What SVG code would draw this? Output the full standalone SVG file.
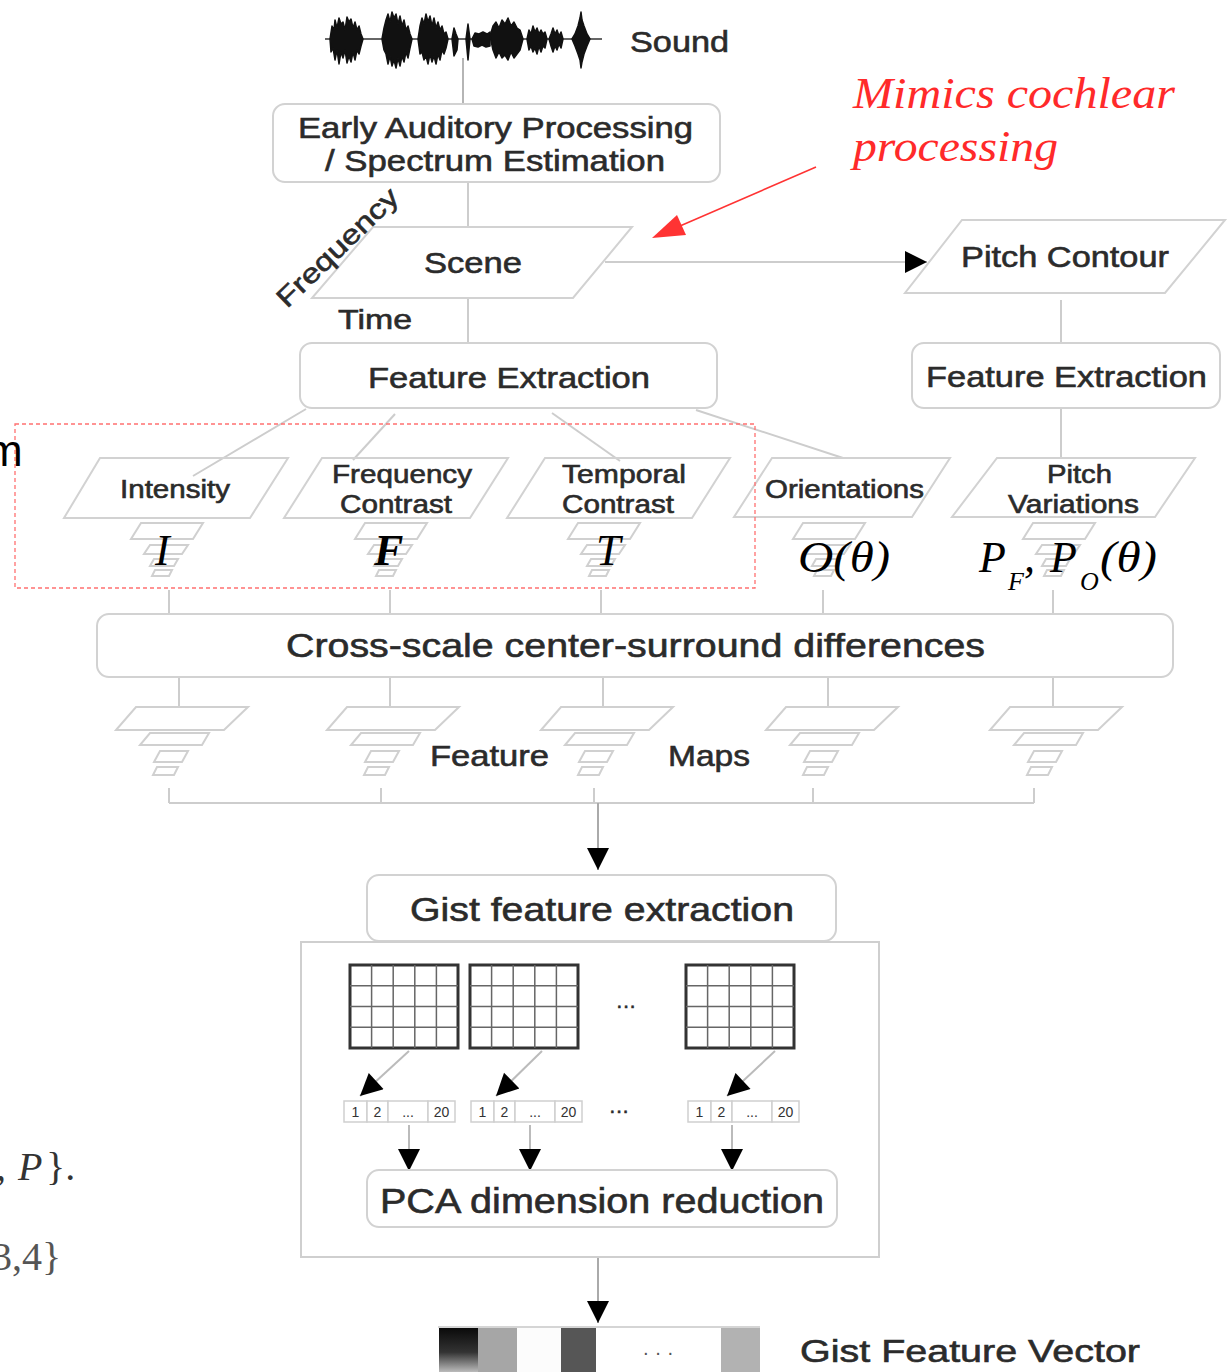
<svg xmlns="http://www.w3.org/2000/svg" width="1229" height="1372" viewBox="0 0 1229 1372">
<style>
.bg{fill:#fff}
.box{fill:#fff;stroke:#d2d2d2;stroke-width:2}
.para{fill:none;stroke:#d2d2d2;stroke-width:2}
.conn{stroke:#cdcdcd;stroke-width:2;fill:none}
.lbl{font-family:"Liberation Sans",Arial,sans-serif;fill:#2b2b2b;stroke:#2b2b2b;stroke-width:0.6}
.c{text-anchor:middle}
.math{font-family:"Liberation Serif","Times New Roman",serif;fill:#000;font-style:italic}
.red{font-family:"Liberation Serif","Times New Roman",serif;fill:#ff2a2a;font-style:italic}
.pyr path{fill:#fff;stroke:#d0d0d0;stroke-width:2}
.gridb{fill:#fff;stroke:#333;stroke-width:3}
.gridl{stroke:#666;stroke-width:1.5}
.cell{fill:#fff;stroke:#cfcfcf;stroke-width:1.5}
.ct{font-family:"Liberation Sans",Arial,sans-serif;font-size:14px;fill:#333;text-anchor:middle}
.wave polygon{fill:#111;stroke:#111;stroke-width:1.5;stroke-linejoin:round}
</style>
<defs>
<marker id="ah" viewBox="0 0 10 10" refX="10" refY="5" markerWidth="24" markerHeight="22" markerUnits="userSpaceOnUse" orient="auto"><path d="M0,0 L10,5 L0,10 z" fill="#000"/></marker>
<linearGradient id="blk" x1="0" y1="0" x2="0" y2="1"><stop offset="0" stop-color="#0a0a0a"/><stop offset="0.55" stop-color="#333"/><stop offset="1" stop-color="#bbb"/></linearGradient>
<g id="stack" class="pyr">
<path d="M-27,0 H35 L25,16 H-37 Z"/>
<path d="M-18,22 H20 L14,31 H-24 Z"/>
<path d="M-14,36 H10 L6,43 H-18 Z"/>
<path d="M-13,47 H4 L1,53 H-16 Z"/>
</g>
<g id="fmap" class="pyr">
<path d="M-42,0 H70 L46,23 H-62 Z"/>
<path d="M-28,26 H31 L24,38 H-38 Z"/>
<path d="M-18,44 H10 L4,55 H-24 Z"/>
<path d="M-21,60 H0 L-4,68 H-25 Z"/>
</g>
<g id="grid">
<rect class="gridb" x="0" y="0" width="108" height="83"/>
<path class="gridl" d="M21.6,0 V83 M43.2,0 V83 M64.8,0 V83 M86.4,0 V83 M0,20.75 H108 M0,41.5 H108 M0,62.25 H108"/>
</g>
<g id="vec">
<rect class="cell" x="0" y="0" width="23" height="21"/>
<rect class="cell" x="23" y="0" width="21" height="21"/>
<rect class="cell" x="44" y="0" width="40" height="21"/>
<rect class="cell" x="84" y="0" width="27" height="21"/>
<text class="ct" x="11.5" y="16">1</text>
<text class="ct" x="33.5" y="16">2</text>
<text class="ct" x="64" y="16">...</text>
<text class="ct" x="97.5" y="16">20</text>
</g>
</defs>
<rect class="bg" x="0" y="0" width="1229" height="1372"/>

<g id="connectors">
<line class="conn" x1="463" y1="58" x2="463" y2="104" style="stroke:#b5b5b5"/>
<line class="conn" x1="468" y1="183" x2="468" y2="227"/>
<line class="conn" x1="468" y1="298" x2="468" y2="343"/>
<line class="conn" x1="605" y1="262" x2="927" y2="262" marker-end="url(#ah)"/>
<line class="conn" x1="1061" y1="300" x2="1061" y2="343"/>
<line class="conn" x1="1061" y1="409" x2="1061" y2="458"/>
<line class="conn" x1="306" y1="409" x2="193" y2="476"/>
<line class="conn" x1="395" y1="414" x2="353" y2="460"/>
<line class="conn" x1="552" y1="413" x2="620" y2="461"/>
<line class="conn" x1="696" y1="410" x2="843" y2="458"/>
<path class="conn" d="M169,590 V614 M390,590 V614 M601,590 V614 M823,590 V614 M1053,590 V614"/>
<path class="conn" d="M179,677 V707 M390,677 V707 M603,677 V707 M828,677 V707 M1053,677 V707"/>
<path class="conn" d="M169,788 V803 M381,788 V803 M594,788 V803 M813,788 V803 M1034,788 V803 M169,803 H1034"/>
<line class="conn" x1="598" y1="803" x2="598" y2="870" style="stroke:#aaa" marker-end="url(#ah)"/>
<line class="conn" x1="409" y1="1051" x2="360" y2="1096" style="stroke:#bbb" marker-end="url(#ah)"/>
<line class="conn" x1="542" y1="1051" x2="496" y2="1096" style="stroke:#bbb" marker-end="url(#ah)"/>
<line class="conn" x1="775" y1="1051" x2="727" y2="1096" style="stroke:#bbb" marker-end="url(#ah)"/>
<line class="conn" x1="409" y1="1125" x2="409" y2="1171" style="stroke:#bbb" marker-end="url(#ah)"/>
<line class="conn" x1="530" y1="1125" x2="530" y2="1171" style="stroke:#bbb" marker-end="url(#ah)"/>
<line class="conn" x1="732" y1="1125" x2="732" y2="1171" style="stroke:#bbb" marker-end="url(#ah)"/>
<line class="conn" x1="598" y1="1258" x2="598" y2="1323" style="stroke:#aaa" marker-end="url(#ah)"/>
<line x1="816" y1="167" x2="680" y2="226" stroke="#ff3333" stroke-width="1.5"/>
<polygon points="652,238 686,235 677,215" fill="#ff3333"/>
</g>

<g id="sound">
<line x1="325" y1="39" x2="602" y2="39" stroke="#333" stroke-width="1.5"/>
<g class="wave">
<polygon points="330,39 332,26 334,30 335,20 337,28 339,18 341,24 343,22 345,30 347,17 349,22 351,19 353,28 355,22 357,30 359,26 361,34 363,39 361,46 359,54 357,50 355,60 353,52 351,62 349,56 347,63 345,50 343,58 341,52 339,64 337,50 335,60 333,48 331,52"/>
<polygon points="382,39 384,28 386,20 388,14 390,22 392,12 394,18 396,14 398,24 400,16 402,26 404,20 406,30 408,26 410,34 412,39 410,48 408,58 406,52 404,62 402,56 400,66 398,58 396,68 394,60 392,66 390,56 388,64 386,54 384,50"/>
<polygon points="418,39 420,26 422,18 424,24 426,14 428,22 430,16 432,26 434,18 436,28 438,22 440,30 442,26 444,34 446,32 448,39 446,48 444,54 442,50 440,60 438,54 436,64 434,56 432,62 430,54 428,64 426,56 424,60 422,52 420,54"/>
<polygon points="452,39 454,28 456,34 458,39 457,50 454,56"/>
<polygon points="466,39 468,24 470,39 468,60"/>
<polygon points="472,39 475,33 479,34 483,32 487,34 490,32 490,46 486,47 482,45 478,47 474,46"/>
<polygon points="490,36 493,26 496,22 499,28 502,20 505,24 508,18 511,26 514,22 517,28 520,30 523,39 520,50 517,54 514,58 511,52 508,60 505,55 502,58 499,52 496,58 493,50"/>
<polygon points="527,39 529,30 531,34 533,26 535,32 537,28 539,34 541,30 543,34 545,32 547,39 545,48 543,46 541,52 539,46 537,54 535,48 533,52 531,46 529,50"/>
<polygon points="549,39 551,34 553,28 555,34 557,30 559,36 561,32 563,39 561,48 559,44 557,50 555,46 553,52 551,46"/>
<polygon points="572,39 575,34 578,26 580,18 581,12 582,20 584,26 587,34 590,39 587,46 584,54 582,62 581,68 580,60 578,54 575,46"/>
</g>
<text class="lbl" x="630" y="52" font-size="30" textLength="99" lengthAdjust="spacingAndGlyphs">Sound</text>
</g>

<g id="early">
<rect class="box" x="273" y="104" width="447" height="78" rx="12"/>
<text class="lbl" x="298" y="138" font-size="30" textLength="395" lengthAdjust="spacingAndGlyphs">Early Auditory Processing</text>
<text class="lbl" x="325" y="171" font-size="30" textLength="340" lengthAdjust="spacingAndGlyphs">/ Spectrum Estimation</text>
</g>

<g id="scene">
<polygon class="para" points="373,227 632,227 573,298 312,298"/>
<text class="lbl" x="424" y="273" font-size="30" textLength="98" lengthAdjust="spacingAndGlyphs">Scene</text>
<text class="lbl" x="0" y="0" font-size="27" transform="translate(287,309) rotate(-44)" textLength="158" lengthAdjust="spacingAndGlyphs">Frequency</text>
<text class="lbl" x="338" y="329" font-size="28" textLength="74" lengthAdjust="spacingAndGlyphs">Time</text>
</g>

<g id="annotation">
<text class="red" x="853" y="108" font-size="45" textLength="322" lengthAdjust="spacingAndGlyphs">Mimics cochlear</text>
<text class="red" x="853" y="161" font-size="45" textLength="205" lengthAdjust="spacingAndGlyphs">processing</text>
</g>

<g id="pitch-contour">
<polygon class="para" points="962,220 1225,220 1165,293 905,293"/>
<text class="lbl" x="961" y="267" font-size="30" textLength="208" lengthAdjust="spacingAndGlyphs">Pitch Contour</text>
</g>

<g id="feature-extraction-left">
<rect class="box" x="300" y="343" width="417" height="65" rx="12"/>
<text class="lbl" x="368" y="388" font-size="30" textLength="282" lengthAdjust="spacingAndGlyphs">Feature Extraction</text>
</g>

<g id="feature-extraction-right">
<rect class="box" x="912" y="343" width="308" height="65" rx="12"/>
<text class="lbl" x="926" y="387" font-size="30" textLength="281" lengthAdjust="spacingAndGlyphs">Feature Extraction</text>
</g>

<g id="intensity">
<polygon class="para" points="100,458 288,458 250,518 64,518"/>
<text class="lbl" x="120" y="498" font-size="25" textLength="110" lengthAdjust="spacingAndGlyphs">Intensity</text>
<use href="#stack" x="168" y="523"/>
<text class="math" x="155" y="565" font-size="44">I</text>
</g>

<g id="frequency-contrast">
<polygon class="para" points="322,458 508,458 470,518 284,518"/>
<text class="lbl" x="332" y="483" font-size="25" textLength="140" lengthAdjust="spacingAndGlyphs">Frequency</text>
<text class="lbl" x="340" y="513" font-size="25" textLength="112" lengthAdjust="spacingAndGlyphs">Contrast</text>
<use href="#stack" x="392" y="523"/>
<text class="math" x="374" y="565" font-size="44" font-weight="bold">F</text>
</g>

<g id="temporal-contrast">
<polygon class="para" points="545,458 730,458 692,518 507,518"/>
<text class="lbl" x="562" y="483" font-size="25" textLength="124" lengthAdjust="spacingAndGlyphs">Temporal</text>
<text class="lbl" x="562" y="513" font-size="25" textLength="112" lengthAdjust="spacingAndGlyphs">Contrast</text>
<use href="#stack" x="605" y="523"/>
<text class="math" x="596" y="565" font-size="44">T</text>
</g>

<g id="orientations">
<polygon class="para" points="772,458 950,458 912,517 734,517"/>
<text class="lbl" x="765" y="498" font-size="25" textLength="159" lengthAdjust="spacingAndGlyphs">Orientations</text>
<use href="#stack" x="830" y="523"/>
<text class="math" x="798" y="572" font-size="44" textLength="92" lengthAdjust="spacingAndGlyphs">O(θ)</text>
</g>

<g id="pitch-variations">
<polygon class="para" points="997,458 1195,458 1155,517 952,517"/>
<text class="lbl" x="1047" y="483" font-size="25" textLength="65" lengthAdjust="spacingAndGlyphs">Pitch</text>
<text class="lbl" x="1008" y="513" font-size="25" textLength="131" lengthAdjust="spacingAndGlyphs">Variations</text>
<use href="#stack" x="1060" y="523"/>
<text class="math" x="979" y="572" font-size="44">P</text>
<text class="math" x="1008" y="590" font-size="26">F</text>
<text class="math" x="1024" y="572" font-size="44">,</text>
<text class="math" x="1050" y="572" font-size="44">P</text>
<text class="math" x="1080" y="590" font-size="26">O</text>
<text class="math" x="1100" y="572" font-size="44" textLength="57" lengthAdjust="spacingAndGlyphs">(θ)</text>
</g>

<g id="highlight">
<rect x="15" y="424" width="740" height="164" fill="none" stroke="#ff7070" stroke-width="1.3" stroke-dasharray="4,3"/>
</g>

<g id="cross-scale">
<rect class="box" x="97" y="614" width="1076" height="63" rx="12"/>
<text class="lbl" x="286" y="657" font-size="34" textLength="699" lengthAdjust="spacingAndGlyphs">Cross-scale center-surround differences</text>
</g>

<g id="feature-maps">
<use href="#fmap" x="178" y="707"/>
<use href="#fmap" x="389" y="707"/>
<use href="#fmap" x="603" y="707"/>
<use href="#fmap" x="828" y="707"/>
<use href="#fmap" x="1052" y="707"/>
<text class="lbl" x="430" y="766" font-size="30" textLength="119" lengthAdjust="spacingAndGlyphs">Feature</text>
<text class="lbl" x="668" y="766" font-size="30" textLength="82" lengthAdjust="spacingAndGlyphs">Maps</text>
</g>

<g id="gist-extraction">
<rect class="box" x="367" y="875" width="469" height="66" rx="12"/>
<text class="lbl" x="410" y="921" font-size="34" textLength="384" lengthAdjust="spacingAndGlyphs">Gist feature extraction</text>
</g>

<g id="gist-panel">
<rect x="301" y="942" width="578" height="315" fill="none" stroke="#cfcfcf" stroke-width="2"/>
<use href="#grid" x="350" y="965"/>
<use href="#grid" x="470" y="965"/>
<use href="#grid" x="686" y="965"/>
<text class="lbl c" x="626" y="1012" font-size="20">···</text>
<use href="#vec" x="344" y="1101"/>
<use href="#vec" x="471" y="1101"/>
<use href="#vec" x="688" y="1101"/>
<text class="lbl c" x="619" y="1117" font-size="20">···</text>
</g>

<g id="pca">
<rect class="box" x="367" y="1170" width="470" height="57" rx="12"/>
<text class="lbl" x="380" y="1213" font-size="35" textLength="444" lengthAdjust="spacingAndGlyphs">PCA dimension reduction</text>
</g>

<g id="gist-vector">
<line x1="438" y1="1327" x2="760" y2="1327" stroke="#d5d5d5" stroke-width="2"/>
<rect x="439" y="1328" width="39" height="44" fill="url(#blk)"/>
<rect x="478" y="1328" width="39" height="44" fill="#a6a6a6"/>
<rect x="517" y="1328" width="44" height="44" fill="#fcfcfc"/>
<rect x="561" y="1328" width="35" height="44" fill="#565656"/>
<rect x="596" y="1328" width="125" height="44" fill="#fff"/>
<rect x="721" y="1328" width="39" height="44" fill="#b2b2b2"/>
<text x="658" y="1359" font-family="Liberation Sans,Arial,sans-serif" font-size="20" fill="#555" text-anchor="middle">· · ·</text>
<text class="lbl" x="800" y="1362" font-size="32" textLength="340" lengthAdjust="spacingAndGlyphs">Gist Feature Vector</text>
</g>

<g id="margin-text">
<text x="-14" y="466" font-family="Liberation Sans,Arial,sans-serif" font-size="44" fill="#000">m</text>
<text x="-4" y="1180" font-family="Liberation Serif,Times New Roman,serif" font-size="40" fill="#333">,<tspan font-style="italic" x="18">P</tspan><tspan x="46">}.</tspan></text>
<text x="-8" y="1270" font-family="Liberation Serif,Times New Roman,serif" font-size="40" fill="#555">3,4}</text>
</g>
</svg>
